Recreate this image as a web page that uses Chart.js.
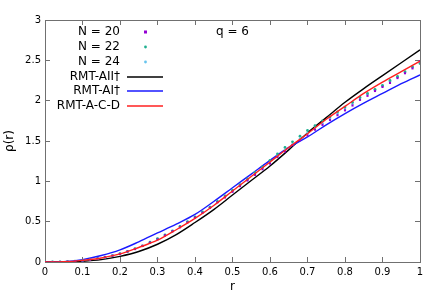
<!DOCTYPE html>
<html>
<head>
<meta charset="utf-8">
<script src="https://cdn.jsdelivr.net/npm/chart.js@4.4.0/dist/chart.umd.min.js"></script>
<style>
  html, body { margin: 0; padding: 0; background: #fff; }
  #box { width: 436px; height: 295px; }
</style>
</head>
<body>
<div id="box"><canvas id="c"></canvas></div>
<script>
// data
const rLine = [0, 0.05, 0.1, 0.15, 0.2, 0.25, 0.3, 0.35, 0.4, 0.45, 0.5, 0.55, 0.6, 0.65, 0.7, 0.75, 0.8, 0.85, 0.9, 0.95, 1];
const rmtAII = [0, 0.001, 0.01, 0.03, 0.07, 0.13, 0.22, 0.34, 0.49, 0.65, 0.83, 1.01, 1.19, 1.39, 1.60, 1.79, 1.98, 2.15, 2.31, 2.47, 2.63];
const rmtAI = [0, 0.005, 0.03, 0.08, 0.15, 0.25, 0.36, 0.47, 0.59, 0.75, 0.92, 1.09, 1.26, 1.42, 1.55, 1.70, 1.84, 1.97, 2.09, 2.21, 2.32];
const rmtACD = [0, 0.003, 0.02, 0.05, 0.10, 0.18, 0.27, 0.40, 0.54, 0.70, 0.88, 1.06, 1.24, 1.42, 1.59, 1.77, 1.93, 2.09, 2.23, 2.36, 2.49];

const rPts = [0, 0.02, 0.04, 0.06, 0.08, 0.1, 0.12, 0.14, 0.16, 0.18, 0.2, 0.22, 0.24, 0.26, 0.28, 0.3, 0.32, 0.34, 0.36, 0.38, 0.4,
  0.42, 0.44, 0.46, 0.48, 0.5, 0.52, 0.54, 0.56, 0.58, 0.6, 0.62, 0.64, 0.66, 0.68, 0.7, 0.72, 0.74, 0.76, 0.78, 0.8,
  0.82, 0.84, 0.86, 0.88, 0.9, 0.92, 0.94, 0.96, 0.98, 1];
const n20 = [0, 0, 0.001, 0.004, 0.010, 0.018, 0.029, 0.042, 0.058, 0.078, 0.10, 0.13, 0.16, 0.20, 0.24, 0.28, 0.33, 0.38, 0.43, 0.49, 0.55,
  0.61, 0.67, 0.74, 0.80, 0.87, 0.94, 1.01, 1.08, 1.15, 1.22, 1.30, 1.37, 1.45, 1.51, 1.57, 1.64, 1.70, 1.76, 1.82, 1.88,
  1.94, 2.01, 2.06, 2.12, 2.17, 2.22, 2.28, 2.34, 2.40, 2.49];
const n22 = [0, 0, 0.002, 0.005, 0.011, 0.019, 0.030, 0.044, 0.060, 0.080, 0.104, 0.13, 0.165, 0.20, 0.245, 0.29, 0.335, 0.385, 0.44, 0.50, 0.56,
  0.62, 0.68, 0.75, 0.82, 0.89, 0.96, 1.03, 1.11, 1.18, 1.26, 1.34, 1.42, 1.49, 1.56, 1.63, 1.69, 1.75, 1.80, 1.86, 1.92,
  1.98, 2.04, 2.09, 2.14, 2.19, 2.25, 2.30, 2.36, 2.42, 2.46];
const n24 = [0, 0, 0.001, 0.004, 0.010, 0.018, 0.029, 0.043, 0.059, 0.079, 0.102, 0.13, 0.163, 0.20, 0.243, 0.287, 0.333, 0.383, 0.437, 0.495, 0.555,
  0.615, 0.678, 0.745, 0.812, 0.88, 0.95, 1.02, 1.095, 1.165, 1.24, 1.315, 1.39, 1.46, 1.53, 1.60, 1.66, 1.72, 1.78, 1.84, 1.90,
  1.96, 2.02, 2.08, 2.13, 2.18, 2.24, 2.29, 2.35, 2.41, 2.47];

const xTicks = [0, 0.1, 0.2, 0.3, 0.4, 0.5, 0.6, 0.7, 0.8, 0.9, 1];
const yTicks = [0, 0.5, 1, 1.5, 2, 2.5, 3];
const seriesNames = ['N = 20', 'N = 22', 'N = 24', 'RMT-AII\u2020', 'RMT-AI\u2020', 'RMT-A-C-D'];
const annotation = 'q = 6';

const FONT = '"DejaVu Sans", sans-serif';
const colPurple = '#9400d3', colTeal = '#20b090', colSky = '#66c4ee';
const colBlack = '#000000', colBlue = '#1a1aff', colRed = '#ff2020';
const colFrame = '#707070';

function pts(xs, ys) { return xs.map((x, i) => ({ x: x, y: ys[i] })); }

function lineSet(label, ys, col, order) {
  return { label: label, data: pts(rLine, ys), showLine: true, borderColor: col, borderWidth: 1.4,
    pointRadius: 0, cubicInterpolationMode: 'monotone', order: order, xAxisID: 'x', yAxisID: 'y' };
}
function dotSet(label, ys, col, style, r, order) {
  return { label: label, data: pts(rPts, ys), showLine: false, backgroundColor: col, borderColor: col,
    borderWidth: 0, pointStyle: style, pointRadius: r, order: order, xAxisID: 'x', yAxisID: 'y' };
}

// legend and label, gnuplot style
const keyBox = {
  id: 'keyBox',
  afterDraw(chart) {
    const ctx = chart.ctx;
    ctx.save();
    ctx.font = '12px ' + FONT;
    ctx.fillStyle = '#000';
    ctx.textAlign = 'right';
    ctx.textBaseline = 'middle';
    const rowY = [32, 47, 62, 77, 91, 106];
    const dots = [[colPurple, 'rect'], [colTeal, 'circle'], [colSky, 'circle']];
    const lines = [colBlack, colBlue, colRed];
    seriesNames.forEach((name, i) => {
      ctx.fillText(name, 120, rowY[i]);
      if (i < 3) {
        ctx.fillStyle = dots[i][0];
        if (dots[i][1] === 'rect') ctx.fillRect(144, rowY[i] - 1.5, 3, 3);
        else { ctx.beginPath(); ctx.arc(145.5, rowY[i], 1.4, 0, Math.PI * 2); ctx.fill(); }
        ctx.fillStyle = '#000';
      } else {
        ctx.strokeStyle = lines[i - 3];
        ctx.lineWidth = 1.4;
        ctx.beginPath(); ctx.moveTo(127, rowY[i]); ctx.lineTo(163, rowY[i]); ctx.stroke();
      }
    });
    ctx.textAlign = 'left';
    ctx.fillText(annotation, 216, 32);
    ctx.restore();
  }
};

// frame sides as extra axes with inner ticks
function sideAxis(pos, isX, ticksArr, show) {
  return {
    type: 'linear', position: pos, min: 0, max: isX ? 1 : 3,
    afterBuildTicks: s => { s.ticks = ticksArr.map(v => ({ value: v })); },
    grid: { display: true, drawOnChartArea: false, drawTicks: true, tickLength: -5, color: colFrame, lineWidth: 1 },
    border: { display: true, color: colFrame, width: 1 },
    ticks: show ? { font: { family: FONT, size: 10 }, color: '#000', padding: isX ? 9 : 9, maxRotation: 0, callback: v => String(v) }
                : { display: false }
  };
}

const xAxis = sideAxis('bottom', true, xTicks, true);
xAxis.afterFit = s => { s.height = 33; };
xAxis.title = { display: true, text: 'r', font: { family: FONT, size: 12 }, color: '#000', padding: { top: 0, bottom: 1 } };
const yAxis = sideAxis('left', false, yTicks, true);
yAxis.afterFit = s => { s.width = 45; };
yAxis.title = { display: true, text: '\u03c1(r)', font: { family: FONT, size: 12 }, color: '#000', padding: { top: 3, bottom: 1 } };
const x2Axis = sideAxis('top', true, xTicks, false);
x2Axis.afterFit = s => { s.height = 20; };
const y2Axis = sideAxis('right', false, yTicks, false);
y2Axis.afterFit = s => { s.width = 16; };

new Chart(document.getElementById('c'), {
  type: 'scatter',
  data: {
    datasets: [
      lineSet(seriesNames[5], rmtACD, colRed, 1),
      dotSet(seriesNames[0], n20, colPurple, 'rect', 1.5, 2),
      dotSet(seriesNames[1], n22, colTeal, 'circle', 1.4, 3),
      dotSet(seriesNames[2], n24, colSky, 'circle', 1.2, 4),
      lineSet(seriesNames[4], rmtAI, colBlue, 5),
      lineSet(seriesNames[3], rmtAII, colBlack, 6)
    ]
  },
  options: {
    responsive: true,
    maintainAspectRatio: false,
    animation: false,
    layout: { padding: 0 },
    plugins: { legend: { display: false }, tooltip: { enabled: false } },
    scales: { x: xAxis, y: yAxis, x2: x2Axis, y2: y2Axis }
  },
  plugins: [keyBox]
});
</script>
</body>
</html>
